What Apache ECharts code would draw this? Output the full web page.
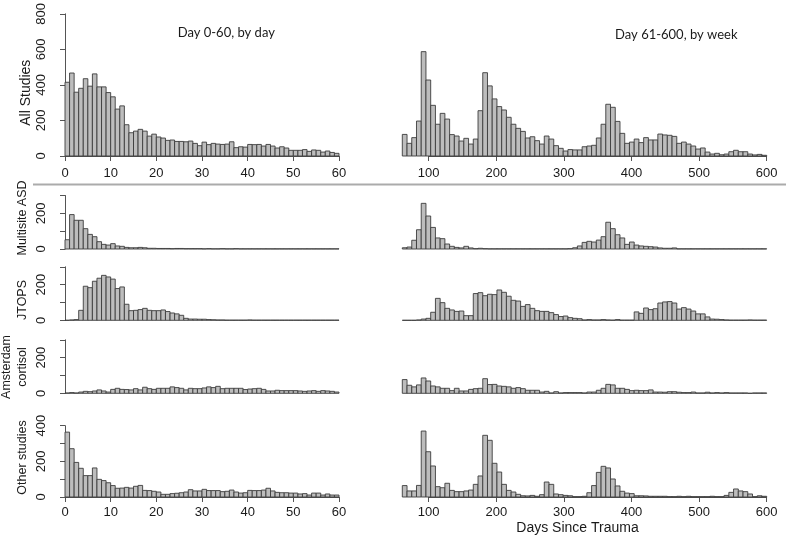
<!DOCTYPE html>
<html><head><meta charset="utf-8">
<script src="https://cdn.jsdelivr.net/npm/echarts@6/dist/echarts.min.js"></script>
<style>html,body{margin:0;padding:0;background:#fff}#c{width:800px;height:538px}</style>
</head><body><div id="c"></div>
<script>
// ---------- data ----------
const dayBins = [0,1,2,3,4,5,6,7,8,9,10,11,12,13,14,15,16,17,18,19,20,21,22,23,24,25,26,27,28,29,30,31,32,33,34,35,36,37,38,39,40,41,42,43,44,45,46,47,48,49,50,51,52,53,54,55,56,57,58,59];
const weekBins = [61,68,75,82,89,96,103,110,117,124,131,138,145,152,159,166,173,180,187,194,201,208,215,222,229,236,243,250,257,264,271,278,285,292,299,306,313,320,327,334,341,348,355,362,369,376,383,390,397,404,411,418,425,432,439,446,453,460,467,474,481,488,495,502,509,516,523,530,537,544,551,558,565,572,579,586,593];
const dayWidth = 1, weekWidth = 7;

const rowLabels = ['All Studies','Multisite ASD','JTOPS','Amsterdam\ncortisol','Other studies'];
const panelTitles = ['Day 0-60, by day','Day 61-600, by week'];
const xAxisTitle = 'Days Since Trauma';
const yMax = [800,300,300,300,400];

const allDay = [415,467,359,381,435,393,462,389,389,357,333,264,282,176,131,140,150,140,112,123,107,101,88,90,82,82,80,84,71,58,78,64,71,67,65,67,80,47,52,50,65,64,65,56,65,56,45,52,45,32,32,32,36,26,34,32,22,28,20,15];
const allWeek = [121,71,103,196,585,426,284,178,239,207,120,112,84,99,67,95,254,467,393,320,277,258,217,178,155,138,101,108,86,67,112,95,58,43,28,36,34,34,52,56,60,101,178,290,273,194,127,71,78,95,75,103,90,90,123,118,116,110,71,78,67,56,39,45,22,11,15,7,11,24,32,24,24,11,6,9,4];

const asdDay = [52,193,161,161,114,82,69,41,26,22,30,17,15,9,7,7,9,7,4,4,3,3,3,2,3,3,2,2,2,2,1,2,1,1,2,1,1,2,1,1,1,1,1,1,1,1,1,1,1,1,1,1,1,1,1,1,1,1,1,1];
const asdWeek = [7,11,49,108,256,185,121,62,58,28,15,9,6,15,6,2,4,2,1,1,1,1,1,1,1,1,1,1,1,1,1,1,1,1,1,2,7,17,37,43,39,50,69,150,114,80,62,26,39,22,17,15,13,11,6,4,4,6,1,1,1,1,1,1,1,1,1,1,1,1,1,1,1,1,1,1,1];

const jtopsDay = [0,2,4,56,191,183,219,236,252,243,231,178,187,90,54,56,60,67,56,54,54,58,49,41,36,28,11,7,7,6,6,4,3,2,2,1,1,1,1,1,2,1,1,1,1,1,1,1,1,1,1,1,1,1,1,1,1,1,1,1];
const jtopsWeek = [0,0,0,2,7,11,45,123,99,67,58,50,52,26,26,150,155,138,146,144,170,157,135,112,108,78,88,67,54,50,50,43,32,21,24,15,11,9,2,4,2,2,4,2,1,4,1,1,1,47,39,69,60,65,97,103,105,97,63,71,63,52,36,36,19,7,6,4,2,1,1,1,1,2,1,1,1];

const amsDay = [2,4,2,7,11,9,13,19,13,7,22,28,22,21,19,26,19,34,26,22,28,28,28,36,32,28,19,28,26,26,30,36,32,39,26,28,28,28,28,21,24,26,28,22,13,13,17,15,15,15,15,13,11,13,15,11,15,13,11,7];
const amsWeek = [77,45,36,47,86,69,41,36,28,28,15,28,13,13,22,26,28,82,49,50,41,39,36,28,32,26,17,17,17,7,11,2,9,2,4,4,4,4,2,7,7,17,28,50,47,28,28,22,15,17,15,15,19,7,7,6,9,9,6,4,4,7,2,2,6,2,4,2,4,2,2,2,2,0,2,2,2];

const otherDay = [364,271,194,161,120,120,163,99,92,80,64,49,50,54,50,60,65,37,36,32,28,15,15,19,21,24,28,41,34,34,43,36,36,36,30,32,39,28,22,24,37,36,36,39,49,34,26,24,24,22,22,17,19,11,22,22,11,17,11,11];
const otherWeek = [64,34,34,65,370,254,174,58,52,77,37,30,30,34,39,71,118,346,318,189,140,71,37,28,15,7,6,9,4,13,84,71,17,13,9,7,2,2,4,24,64,138,172,163,101,62,32,22,19,7,7,6,4,4,4,4,2,2,4,2,4,2,2,2,2,4,2,2,9,26,45,34,30,17,2,7,4];

const dayRows = [allDay, asdDay, jtopsDay, amsDay, otherDay];
const weekRows = [allWeek, asdWeek, jtopsWeek, amsWeek, otherWeek];

// ---------- layout ----------
const FONT = 'Liberation Sans';
const leftPane = {left:65, width:274};
const rightPane = {left:402.3, width:364.4};
const rightAxisPane = {left:428.7, width:338};
const rowPos = [
  {top:13.3, h:142.7, xOff:6},
  {top:195.5, h:53.5, xOff:4},
  {top:266.8, h:53.5, xOff:4},
  {top:339.8, h:53.5, xOff:4},
  {top:425.7, h:71.3, xOff:3.7}
];
const labelPos = [
  {x:26, y:92.7, size:14},
  {x:23, y:218, size:12.5},
  {x:23, y:300, size:12.5},
  {x:15, y:367, size:12.5},
  {x:23, y:457.5, size:12.5}
];
const axisColor = '#555';
const textColor = '#1a1a1a';

function renderBar(params, api){
  const a = api.coord([api.value(0), 0]);
  const b = api.coord([api.value(1), api.value(2)]);
  return {
    type:'rect',
    shape:{x:a[0], y:b[1], width:b[0]-a[0], height:a[1]-b[1]},
    style:{fill:'#bdbdbd', stroke:'#3c3c3c', lineWidth:0.9}
  };
}

const grids = [], xAxes = [], yAxes = [], series = [];
function hiddenX(gi, min, max){
  return {gridIndex:gi, type:'value', min:min, max:max, show:false, splitLine:{show:false}};
}
function shownX(gi, min, max, interval, off){
  return {gridIndex:gi, type:'value', min:min, max:max, interval:interval, offset:off,
    axisLine:{show:true, lineStyle:{color:axisColor, width:1}},
    axisTick:{show:true, length:5, lineStyle:{color:axisColor}},
    axisLabel:{show:true, margin:5, color:textColor, fontFamily:FONT, fontSize:13, showMinLabel:true, showMaxLabel:true},
    splitLine:{show:false}};
}

rowPos.forEach((rp, r) => {
  // left panel
  const gl = grids.length;
  grids.push({left:leftPane.left, width:leftPane.width, top:rp.top, height:rp.h});
  if (r === 0 || r === 4) xAxes.push(shownX(gl, 0, 60, 10, rp.xOff));
  else xAxes.push(hiddenX(gl, 0, 60));
  yAxes.push({gridIndex:gl, type:'value', min:0, max:yMax[r], interval:(r===0?200:100), offset:13.3,
    axisLine:{show:true, lineStyle:{color:axisColor, width:1}},
    axisTick:{show:true, length:5, lineStyle:{color:axisColor}},
    axisLabel:{show:true, rotate:90, margin:3.5, color:textColor, fontFamily:FONT, fontSize:13,
      showMinLabel:true, showMaxLabel:true,
      formatter: v => (v % 200 === 0 ? String(v) : '')},
    splitLine:{show:false}});
  series.push({type:'custom', xAxisIndex:gl, yAxisIndex:gl, renderItem:renderBar, clip:false,
    encode:{x:[0,1], y:2}, silent:true,
    data: dayBins.map((d,i) => [d, d+dayWidth, dayRows[r][i]])});
  // right panel
  const gr = grids.length;
  grids.push({left:rightPane.left, width:rightPane.width, top:rp.top, height:rp.h});
  xAxes.push(hiddenX(gr, 61, 600));
  yAxes.push({gridIndex:gr, type:'value', min:0, max:yMax[r], show:false, splitLine:{show:false}});
  series.push({type:'custom', xAxisIndex:gr, yAxisIndex:gr, renderItem:renderBar, clip:false,
    encode:{x:[0,1], y:2}, silent:true,
    data: weekBins.map((d,i) => [d, d+weekWidth, weekRows[r][i]])});
});
// axis-only grids for the week panels (axis drawn from 100 to 600)
[0,4].forEach(r => {
  const rp = rowPos[r];
  const g = grids.length;
  grids.push({left:rightAxisPane.left, width:rightAxisPane.width, top:rp.top, height:rp.h});
  xAxes.push(shownX(g, 100, 600, 100, rp.xOff));
  yAxes.push({gridIndex:g, type:'value', min:0, max:yMax[r], show:false, splitLine:{show:false}});
});

const graphics = [
  {type:'line', shape:{x1:33, y1:184.5, x2:786, y2:184.5}, style:{stroke:'#ababab', lineWidth:2}},
  {type:'text', x:226.3, y:33.3, style:{text:panelTitles[0], textAlign:'center', textVerticalAlign:'middle', fontFamily:'Lato', fontSize:13, fill:textColor}},
  {type:'text', x:676.3, y:35, style:{text:panelTitles[1], textAlign:'center', textVerticalAlign:'middle', fontFamily:'Lato', fontSize:13, fill:textColor}},
  {type:'text', x:577.5, y:528, style:{text:xAxisTitle, textAlign:'center', textVerticalAlign:'middle', fontFamily:FONT, fontSize:14, fill:textColor}}
];
rowLabels.forEach((t, r) => {
  const p = labelPos[r];
  graphics.push({type:'text', x:p.x, y:p.y, rotation:Math.PI/2,
    style:{text:t, textAlign:'center', textVerticalAlign:'middle', fontFamily:FONT, fontSize:p.size, lineHeight:16, fill:textColor}});
});

const chart = echarts.init(document.getElementById('c'), null, {renderer:'canvas'});
chart.setOption({
  animation:false,
  backgroundColor:'#ffffff',
  grid:grids, xAxis:xAxes, yAxis:yAxes, series:series,
  graphic:{elements:graphics}
});
</script>
</body></html>
